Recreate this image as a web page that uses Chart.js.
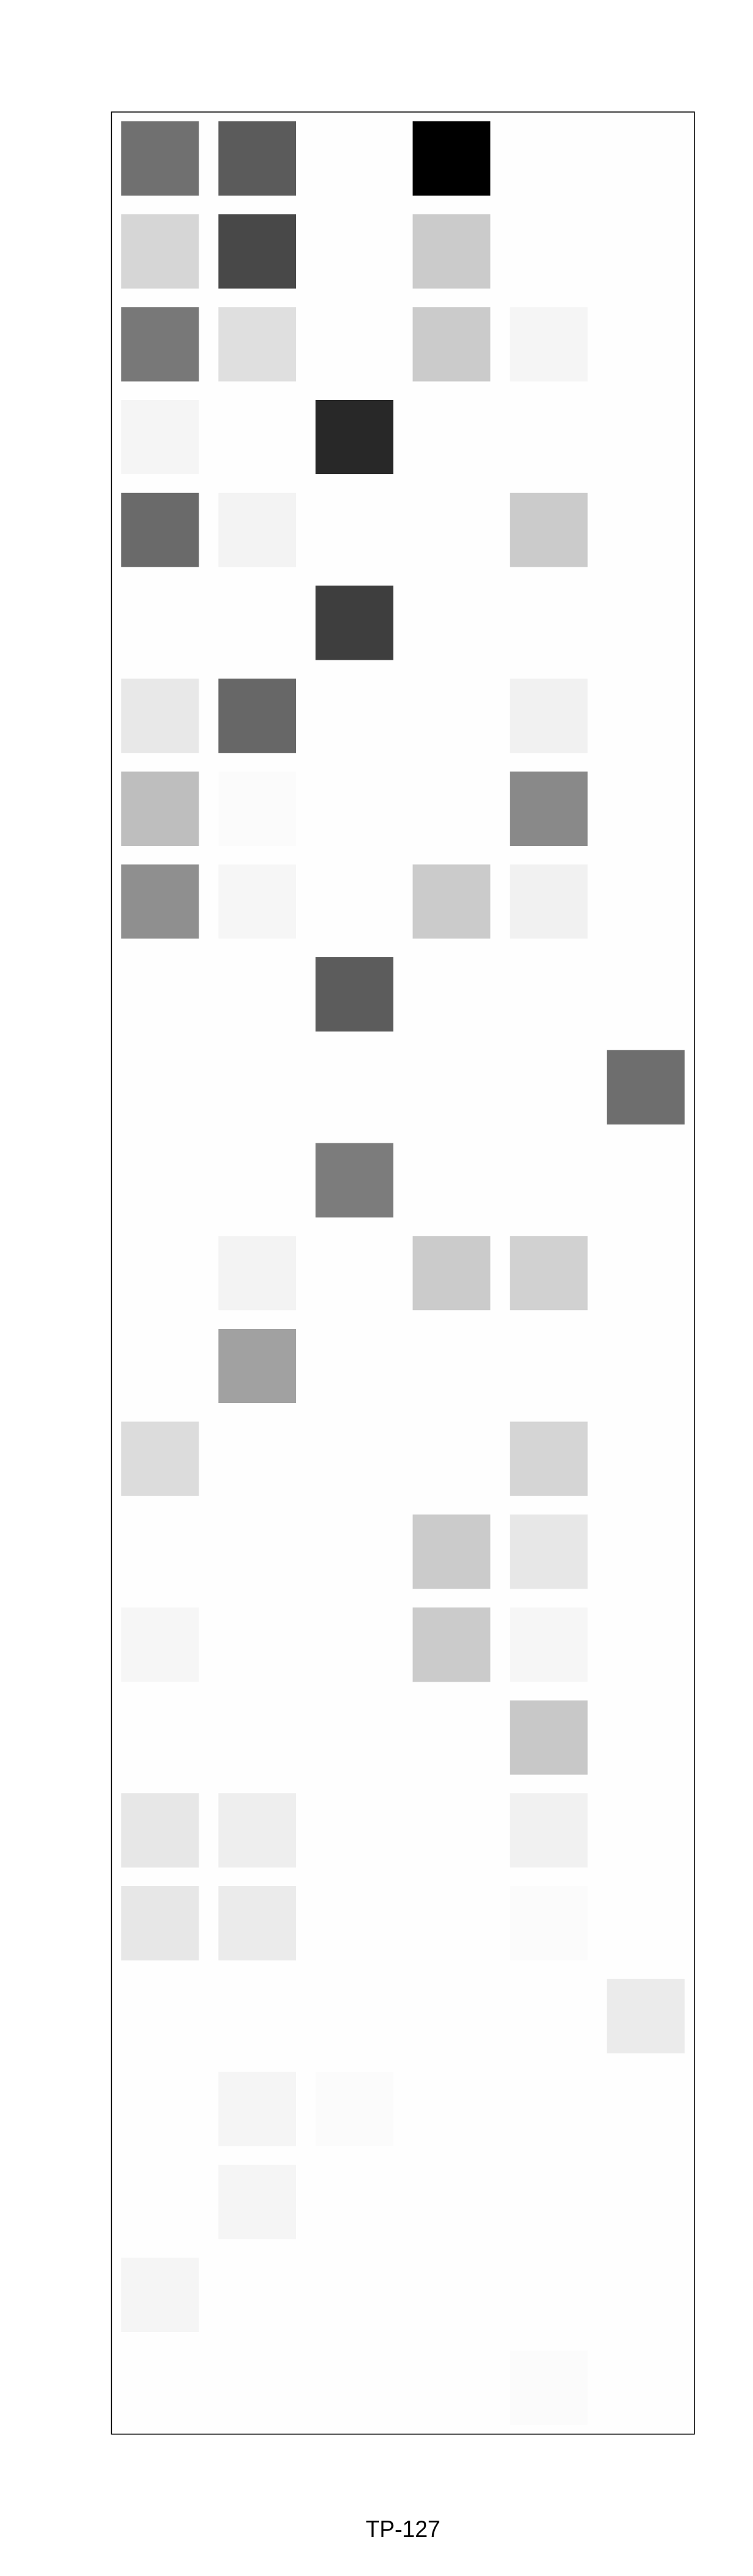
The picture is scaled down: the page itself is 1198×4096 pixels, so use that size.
<!DOCTYPE html>
<html>
<head>
<meta charset="utf-8">
<script src="https://cdn.jsdelivr.net/npm/chart.js@4/dist/chart.umd.min.js"></script>
<style>
html,body{margin:0;padding:0;background:#ffffff;}
canvas{display:block;}
</style>
</head>
<body>
<canvas id="chart" width="1198" height="4096"></canvas>
<script>
// Column categories and row count
const columns = ['1', '2', '3', '4', '5', '6'];
const rowLabels = ['1','2','3','4','5','6','7','8','9','10','11','12','13','14','15','16','17','18','19','20','21','22','23','24','25'];

// Cell intensity per column (0 = empty, 255 = black), top row first
const col1 = [143, 41, 135, 10, 149, 0, 23, 65, 112, 0, 0, 0, 0, 0, 35, 0, 9, 0, 24, 24, 0, 0, 0, 10, 0];
const col2 = [164, 183, 32, 0, 12, 0, 152, 4, 9, 0, 0, 0, 12, 94, 0, 0, 0, 0, 17, 20, 0, 10, 10, 0, 0];
const col3 = [0, 0, 0, 215, 0, 193, 0, 0, 0, 163, 0, 131, 0, 0, 0, 0, 0, 0, 0, 0, 0, 4, 0, 0, 0];
const col4 = [255, 52, 52, 0, 0, 0, 0, 0, 52, 0, 0, 0, 52, 0, 0, 52, 52, 0, 0, 0, 0, 0, 0, 0, 0];
const col5 = [0, 0, 10, 0, 52, 0, 14, 118, 14, 0, 0, 0, 46, 0, 42, 24, 9, 55, 14, 4, 0, 0, 0, 0, 4];
const col6 = [0, 0, 0, 0, 0, 0, 0, 0, 0, 0, 145, 0, 0, 0, 0, 0, 0, 0, 0, 0, 20, 0, 0, 0, 0];

const chartTitle = 'TP-127';

const seriesList = [col1, col2, col3, col4, col5, col6];

function shade(v) {
  if (!v) return 'rgba(0,0,0,0)';
  const g = 255 - v;
  return 'rgb(' + g + ',' + g + ',' + g + ')';
}

const datasets = seriesList.map((vals, c) => ({
  label: columns[c],
  data: vals.map((v, r) => ({ x: columns[c], y: [r + 0.1, r + 0.9], v: v })),
  backgroundColor: vals.map(shade),
  borderWidth: 0,
  inflateAmount: 0,
  barPercentage: 0.8,
  categoryPercentage: 1.0,
  grouped: false
}));

const framePlugin = {
  id: 'frame',
  beforeDatasetsDraw(chart) {
    const a = chart.chartArea, ctx = chart.ctx;
    ctx.save();
    ctx.fillStyle = '#fefefe';
    ctx.fillRect(a.left, a.top, a.right - a.left, a.bottom - a.top);
    ctx.restore();
  },
  afterDraw(chart) {
    const a = chart.chartArea, ctx = chart.ctx;
    ctx.save();
    ctx.strokeStyle = '#000000';
    ctx.lineWidth = 1.5;
    ctx.strokeRect(a.left, a.top, a.right - a.left, a.bottom - a.top);
    ctx.restore();
  }
};

new Chart(document.getElementById('chart'), {
  type: 'bar',
  data: { labels: columns, datasets: datasets },
  options: {
    responsive: false,
    animation: false,
    devicePixelRatio: 1,
    layout: { padding: { left: 177.4, right: 93.2, top: 178.1, bottom: 40.0 } },
    scales: {
      x: { type: 'category', labels: columns, offset: true, display: false },
      y: { type: 'linear', min: 0, max: rowLabels.length, reverse: true, display: false }
    },
    plugins: {
      legend: { display: false },
      tooltip: { enabled: false },
      title: {
        display: true,
        text: chartTitle,
        position: 'bottom',
        color: '#000000',
        font: { family: '"Liberation Sans", Arial, sans-serif', size: 36.2, weight: 'normal', lineHeight: 1.2 },
        padding: { top: 132.1, bottom: 10 }
      }
    }
  },
  plugins: [framePlugin]
});
</script>
</body>
</html>
